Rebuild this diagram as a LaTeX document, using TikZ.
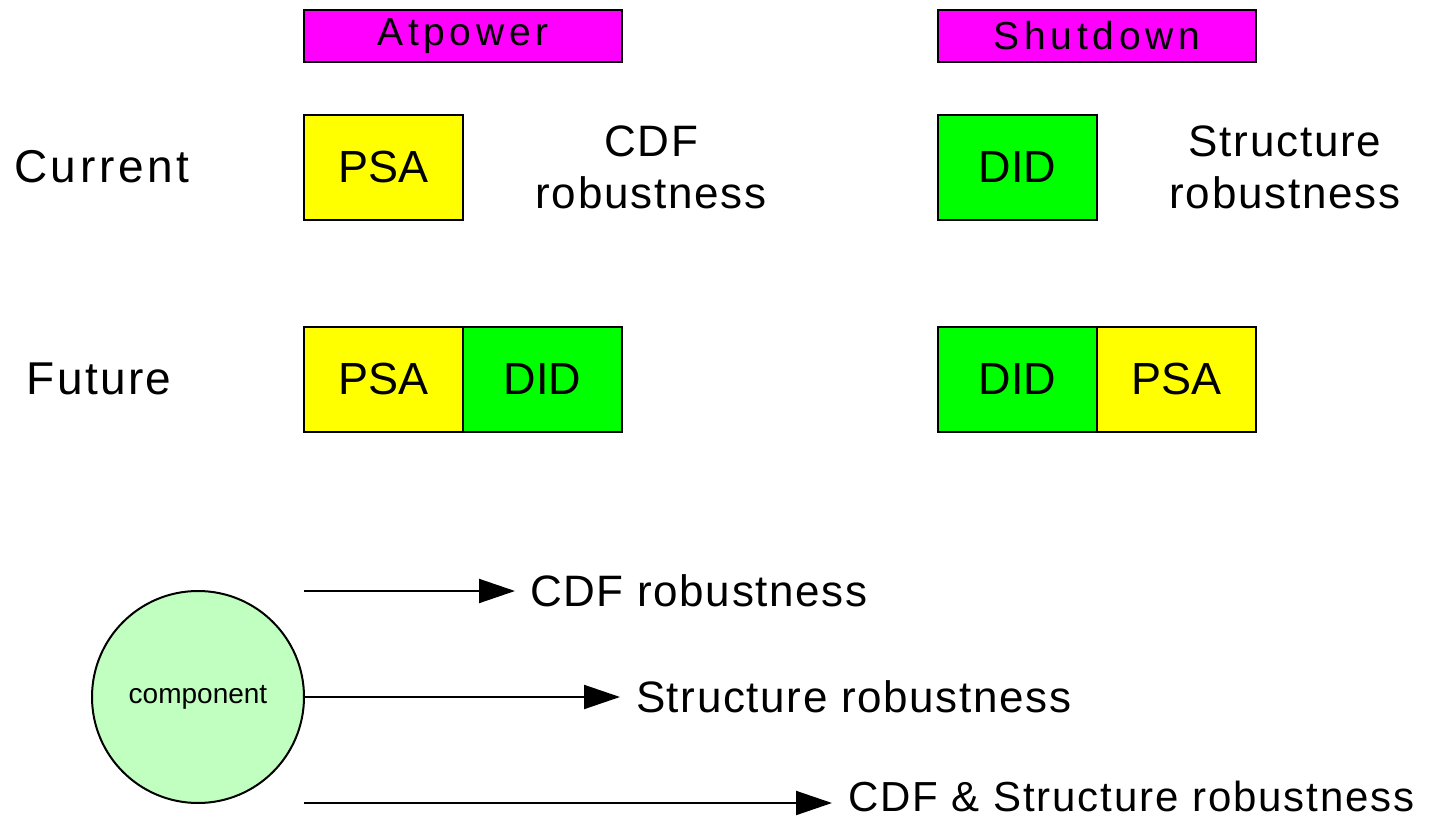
\documentclass[tikz,border=0pt]{standalone}
\usepackage{fontspec}
\setmainfont{Liberation Sans}
\usetikzlibrary{arrows.meta}
\definecolor{magentabox}{HTML}{FF00FF}
\definecolor{yellowbox}{HTML}{FFFF00}
\definecolor{greenbox}{HTML}{00FF00}
\definecolor{compfill}{HTML}{C0FFC0}
\begin{document}
\begin{tikzpicture}[x=1pt,y=-1pt,
  every node/.style={inner sep=0pt,outer sep=0pt},
  header/.style={draw=black,line width=2pt,fill=magentabox,minimum width=318pt,minimum height=52pt,font=\fontsize{39}{44}\selectfont\addfontfeature{LetterSpace=12}},
  cell/.style={draw=black,line width=2pt,minimum width=159pt,minimum height=105pt,font=\fontsize{45}{52}\selectfont},
  psacell/.style={cell,fill=yellowbox},
  didcell/.style={cell,fill=greenbox},
  bigtext/.style={font=\fontsize{44}{52}\selectfont\addfontfeature{LetterSpace=4},align=center},
  rowlabel/.style={font=\fontsize{46}{52}\selectfont,anchor=west},
  comp/.style={circle,draw=black,line width=2pt,fill=compfill,minimum size=212pt,font=\fontsize{28}{32}\selectfont},
  conn/.style={line width=2pt,-{Triangle[length=36pt,width=24pt]}},
  outlabel/.style={font=\fontsize{44}{52}\selectfont\addfontfeature{LetterSpace=3.7},anchor=west}
]
\useasboundingbox (0,0) rectangle (1446,821);
% headers
\node[header] (atpow) at (463,36) {Atpower};
\node[header] (shut) at (1097,36) {Shutdown};
% row labels
\node[rowlabel,font=\fontsize{46}{52}\selectfont\addfontfeature{LetterSpace=8}] (current) at (14,167) {Current};
\node[rowlabel,font=\fontsize{46}{52}\selectfont\addfontfeature{LetterSpace=5}] (future) at (27,379) {Future};
% current row
\node[psacell] (psa1) at (383.5,167.5) {PSA};
\node[bigtext] (cdf1) at (651,167) {CDF\\robustness};
\node[didcell] (did1) at (1017.5,167.5) {DID};
\node[bigtext] (struct1) at (1285,167) {Structure\\robustness};
% future row
\node[psacell] (psa2) at (383.5,379) {PSA};
\node[didcell] (did2) at (542.5,379) {DID};
\node[didcell] (did3) at (1017.5,379) {DID};
\node[psacell] (psa3) at (1176.5,379) {PSA};
% component
\node[comp] (comp) at (198,697) {component};
\coordinate (a1s) at (304,591);
\coordinate (a1e) at (515,591);
\coordinate (a2e) at (620,697);
\coordinate (a3s) at (304,803);
\coordinate (a3e) at (832,803);
\draw[conn] (a1s) -- (a1e);
\draw[conn] (comp.east) -- (a2e);
\draw[conn] (a3s) -- (a3e);
\node[outlabel] (l1) at (530,591) {CDF robustness};
\node[outlabel] (l2) at (636,697) {Structure robustness};
\node[outlabel,font=\fontsize{42}{48}\selectfont\addfontfeature{LetterSpace=4.5}] (l3) at (848,796) {CDF \& Structure robustness};
\end{tikzpicture}
\end{document}
